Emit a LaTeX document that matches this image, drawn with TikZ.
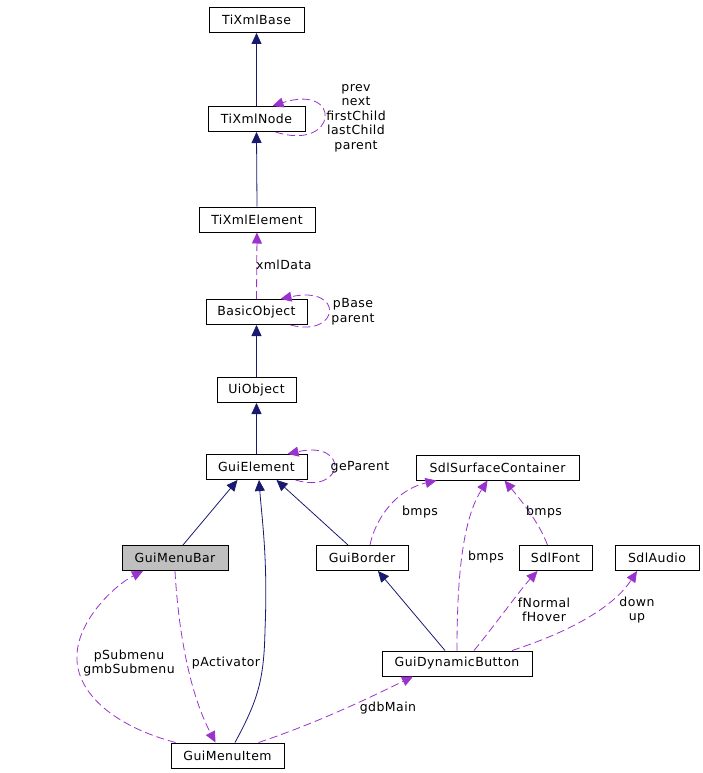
\documentclass[tikz,border=0pt]{standalone}
\usepackage{fontspec}
\setmainfont{DejaVu Sans}[LetterSpace=3.5]
\usetikzlibrary{arrows.meta}
\definecolor{inh}{RGB}{25,25,112}
\definecolor{use}{RGB}{154,50,205}
\definecolor{grayfill}{RGB}{191,191,191}
\tikzset{
  box/.style={draw=black, line width=1pt, fill=white, minimum height=25pt, inner sep=0pt, font=\fontsize{12.5}{14}\selectfont},
  inhline/.style={draw=inh, line width=0.8pt, -{Triangle[length=11pt,width=10pt]}},
  useline/.style={draw=use, line width=0.8pt, dash pattern=on 8pt off 4pt, -{Triangle[length=11pt,width=10pt,fill=use]}},
  lbl/.style={font=\fontsize{12.5}{14.5}\selectfont, inner sep=0pt, align=center}
}
\begin{document}
\begin{tikzpicture}[x=1pt,y=-1pt]
\useasboundingbox (0,0) rectangle (703,773);
% nodes
\node[box, minimum width=95pt] (base) at (256.5,20) {TiXmlBase};
\node[box, minimum width=97pt] (tnode) at (256.5,119) {TiXmlNode};
\node[box, minimum width=116pt] (telem) at (257,219.5) {TiXmlElement};
\node[box, minimum width=101pt] (bobj) at (256.5,312) {BasicObject};
\node[box, minimum width=79pt] (uiobj) at (256.5,390) {UiObject};
\node[box, minimum width=101pt] (gel) at (256.5,467) {GuiElement};
\node[box, minimum width=163pt] (ssc) at (497.5,467.5) {SdlSurfaceContainer};
\node[box, minimum width=106pt, fill=grayfill] (mbar) at (175,558) {GuiMenuBar};
\node[box, minimum width=92pt] (gborder) at (362,558) {GuiBorder};
\node[box, minimum width=73pt] (sfont) at (555.5,558) {SdlFont};
\node[box, minimum width=84pt] (saudio) at (657,558) {SdlAudio};
\node[box, minimum width=150pt] (gdb) at (457,663.5) {GuiDynamicButton};
\node[box, minimum width=113pt] (mitem) at (227.5,755.5) {GuiMenuItem};

% inheritance
\draw[inhline] (tnode.north) -- (base.south);
\draw[inhline] (telem.north) -- (tnode.south);
\draw[inhline] (uiobj.north) -- (bobj.south);
\draw[inhline] (gel.north) -- (uiobj.south);
\draw[inhline] ([xshift=8pt]mbar.north) -- ([xshift=-19pt]gel.south);
\draw[inhline] ([xshift=-14pt]gborder.north) -- ([xshift=20pt]gel.south);
\draw[inhline] ([xshift=-12pt]gdb.north) -- ([xshift=16pt]gborder.south);
\draw[inhline] ([xshift=7.5pt]mitem.north) .. controls (258,700) and (264,680) .. (265,630)
   .. controls (268,560) and (262,520) .. ([xshift=2.5pt]gel.south);

% usage
\draw[useline] (bobj.north) -- node[lbl, pos=0.52, xshift=27pt]{xmlData} (telem.south);
\draw[useline] ([xshift=-30pt]tnode.south east) .. controls (338,152) and (343,83) .. ([xshift=-33pt]tnode.north east);
\node[lbl] (tnlbl) at (356,118) {prev\\next\\firstChild\\lastChild\\parent};
\draw[useline] ([xshift=-17pt]bobj.south east) .. controls (340,338) and (345,285) .. ([xshift=-27pt]bobj.north east);
\node[lbl] (bolbl) at (353,311.5) {pBase\\parent};
\draw[useline] ([xshift=-12pt]gel.south east) .. controls (345,495) and (350,440) .. ([xshift=-20pt]gel.north east);
\node[lbl] (gelbl) at (360,467) {geParent};

\draw[useline] ([xshift=8pt]gborder.north) .. controls (375,520) and (395,490) .. ([xshift=-61pt]ssc.south);
\node[lbl] (l1) at (420,512) {bmps};
\draw[useline] (gdb.north) .. controls (457,580) and (462,520) .. ([xshift=-10pt]ssc.south);
\node[lbl] (l2) at (486,557) {bmps};
\draw[useline] ([xshift=-8pt]sfont.north) .. controls (540,525) and (525,505) .. ([xshift=7pt]ssc.south);
\node[lbl] (l3) at (544,512) {bmps};
\draw[useline] ([xshift=17pt]gdb.north) .. controls (495,625) and (520,590) .. ([xshift=-18pt]sfont.south);
\node[lbl] (l4) at (544,610) {fNormal\\fHover};
\draw[useline] ([xshift=55pt]gdb.north) .. controls (575,630) and (615,605) .. ([xshift=-20pt]saudio.south);
\node[lbl] (l5) at (637,610) {down\\up};
\draw[useline] ([xshift=31pt]mitem.north) .. controls (320,722) and (375,695) .. ([xshift=-44pt]gdb.south);
\node[lbl] (l6) at (388,708) {gdbMain};
\draw[useline] ([xshift=-52pt]mitem.north) .. controls (110,725) and (75,690) .. (77,655)
   .. controls (78,620) and (115,585) .. ([xshift=-32pt]mbar.south);
\node[lbl] (l7) at (129,663) {pSubmenu\\gmbSubmenu};
\draw[useline] (mbar.south) .. controls (178,625) and (188,690) .. ([xshift=-12pt]mitem.north);
\node[lbl] (l8) at (226,663) {pActivator};
\end{tikzpicture}
\end{document}
